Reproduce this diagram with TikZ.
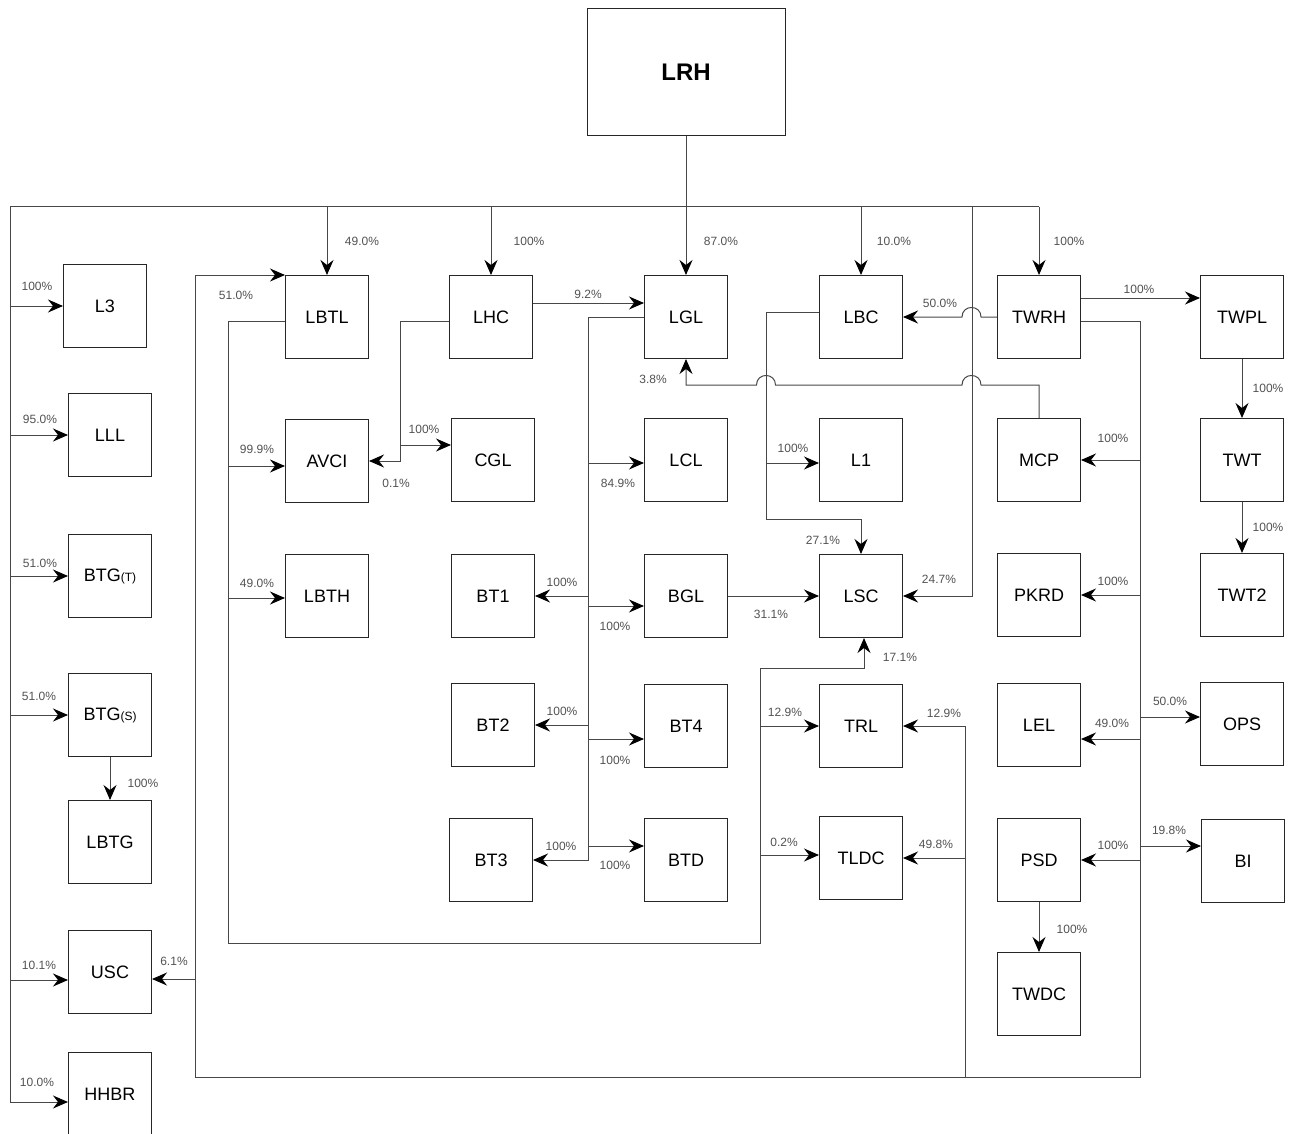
\documentclass[tikz,border=0pt]{standalone}
\usepackage{fontspec}
\setmainfont{Liberation Sans}
\usetikzlibrary{arrows.meta}
\begin{document}
\begin{tikzpicture}[x=1pt,y=-1pt,
 box/.style={draw=black!85,line width=1pt,minimum width=83pt,minimum height=83pt,inner sep=0pt,font=\fontsize{18}{20}\selectfont},
 ln/.style={draw=black!72,line width=1pt},
 arr/.style={ln,-{Stealth[length=15pt,width=13pt,inset=5pt,color=black]}},
 pct/.style={font=\fontsize{12}{14}\selectfont,text=black!68,inner sep=0pt}]
\useasboundingbox (0,0) rectangle (1293,1134);

% ---------- nodes ----------
\node[box,minimum width=198pt,minimum height=127pt,font=\fontsize{24}{26}\selectfont\bfseries] (LRH) at (686,72) {LRH};

\node[box] (L3)   at (105,306)  {L3};
\node[box] (LLL)  at (110,435)  {LLL};
\node[box] (BTGT) at (110,576)  {BTG{\fontsize{12}{14}\selectfont(T)}};
\node[box] (BTGS) at (110,715)  {BTG{\fontsize{12}{14}\selectfont(S)}};
\node[box] (LBTG) at (110,842)  {LBTG};
\node[box] (USC)  at (110,972)  {USC};
\node[box] (HHBR) at (110,1094) {HHBR};

\node[box] (LBTL) at (327,317) {LBTL};
\node[box] (AVCI) at (327,461) {AVCI};
\node[box] (LBTH) at (327,596) {LBTH};

\node[box] (LHC) at (491,317) {LHC};
\node[box] (CGL) at (493,460) {CGL};
\node[box] (BT1) at (493,596) {BT1};
\node[box] (BT2) at (493,725) {BT2};
\node[box] (BT3) at (491,860) {BT3};

\node[box] (LGL) at (686,317) {LGL};
\node[box] (LCL) at (686,460) {LCL};
\node[box] (BGL) at (686,596) {BGL};
\node[box] (BT4) at (686,726) {BT4};
\node[box] (BTD) at (686,860) {BTD};

\node[box] (LBC)  at (861,317) {LBC};
\node[box] (L1)   at (861,460) {L1};
\node[box] (LSC)  at (861,596) {LSC};
\node[box] (TRL)  at (861,726) {TRL};
\node[box] (TLDC) at (861,858) {TLDC};

\node[box] (TWRH) at (1039,317) {TWRH};
\node[box] (MCP)  at (1039,460) {MCP};
\node[box] (PKRD) at (1039,595) {PKRD};
\node[box] (LEL)  at (1039,725) {LEL};
\node[box] (PSD)  at (1039,860) {PSD};
\node[box] (TWDC) at (1039,994) {TWDC};

\node[box] (TWPL) at (1242,317) {TWPL};
\node[box] (TWT)  at (1242,460) {TWT};
\node[box] (TWT2) at (1242,595) {TWT2};
\node[box] (OPS)  at (1242,724) {OPS};
\node[box] (BI)   at (1243,861) {BI};

% ---------- top bus ----------
\coordinate (busL) at (10,207);
\coordinate (busR) at (1039,207);
\draw[ln] (busR) -- (busL);
\draw[arr] (LRH.south) -- (LGL.north);
\draw[arr] (LBTL.north |- busL) -- (LBTL.north);
\draw[arr] (LHC.north |- busL) -- (LHC.north);
\draw[arr] (LBC.north |- busL) -- (LBC.north);
\draw[arr] (busR) -- (TWRH.north);
\draw[arr] (972,207) -- (972,596) -- (LSC.east);

% left bus
\draw[arr] (busL) -- (10,1102) -- ([yshift=-8pt]HHBR.west);
\draw[arr] (10,306) -- (L3.west);
\draw[arr] (10,435) -- (LLL.west);
\draw[arr] (10,576) -- (BTGT.west);
\draw[arr] (10,715) -- (BTGS.west);
\draw[arr] (10,980) -- ([yshift=-8pt]USC.west);
\draw[arr] (BTGS.south) -- (LBTG.north);

% ---------- TWRH outer loop ----------
\draw[arr] ([yshift=-4pt]TWRH.east) -- (1140,321) -- (1140,1077) -- (195,1077) -- (195,0 |- LBTL.north west) -- (LBTL.north west);
\draw[arr] (195,979) -- ([yshift=-7pt]USC.east);
\draw[arr] (1140,460) -- (MCP.east);
\draw[arr] (1140,595) -- (PKRD.east);
\draw[arr] (1140,739) -- ([yshift=-14pt]LEL.east);
\draw[arr] (1140,860) -- (PSD.east);
\draw[arr] (1140,717) -- ([yshift=7pt]OPS.west);
\draw[arr] (1140,846) -- ([yshift=15pt]BI.west);
\draw[arr] (965,1077) -- (965,726) -- (TRL.east);
\draw[arr] (965,858) -- (TLDC.east);

% ---------- LBTL ----------
\draw[arr] ([yshift=-4pt]LBTL.west) -- (228,321) -- (228,943) -- (760,943) -- (760,668) -- (864,668) -- ([xshift=3pt]LSC.south);
\draw[arr] (228,466) -- ([yshift=-5pt]AVCI.west);
\draw[arr] (228,598) -- ([yshift=-2pt]LBTH.west);
\draw[arr] (760,726) -- (TRL.west);
\draw[arr] (760,855) -- ([yshift=3pt]TLDC.west);

% ---------- LHC ----------
\draw[arr] ([yshift=14pt]LHC.east) -- ([yshift=14pt]LGL.west);
\draw[arr] ([yshift=-4pt]LHC.west) -- (400,321) -- (400,461) -- (AVCI.east);
\draw[arr] (400,445) -- ([yshift=15pt]CGL.west);

% ---------- LGL ----------
\draw[arr] (LGL.west) -- (588,317) -- (588,860) -- (BT3.east);
\draw[arr] (588,463) -- ([yshift=-3pt]LCL.west);
\draw[arr] (588,596) -- (BT1.east);
\draw[arr] (588,606) -- ([yshift=-10pt]BGL.west);
\draw[arr] (588,725) -- (BT2.east);
\draw[arr] (588,739) -- ([yshift=-13pt]BT4.west);
\draw[arr] (588,846) -- ([yshift=14pt]BTD.west);

% ---------- LBC ----------
\draw[arr] ([yshift=5pt]LBC.west) -- (766,312) -- (766,519) -- (861,519) -- (LSC.north);
\draw[arr] (766,463) -- ([yshift=-3pt]L1.west);
\draw[arr] (BGL.east) -- (LSC.west);

% ---------- TWRH ----------
\draw[arr] (TWRH.west) -- (981,317) .. controls (981,304.3) and (962,304.3) .. (962,317) -- (LBC.east);
\draw[arr] ([yshift=19pt]TWRH.east) -- ([yshift=19pt]TWPL.west);
\draw[arr] (TWPL.south) -- (TWT.north);
\draw[arr] (TWT.south) -- (TWT2.north);
\draw[arr] (PSD.south) -- (TWDC.north);

% ---------- MCP ----------
\draw[arr] (MCP.north) -- (1039,385) -- (981,385) .. controls (981,372.3) and (962,372.3) .. (962,385) -- (775.5,385) .. controls (775.5,372.3) and (756.5,372.3) .. (756.5,385) -- (686,385) -- (LGL.south);

% ---------- labels ----------
\node[pct] (p1) at (362,241) {49.0\%};
\node[pct] (p2) at (529,241) {100\%};
\node[pct] (p3) at (721,241) {87.0\%};
\node[pct] (p4) at (894,241) {10.0\%};
\node[pct] (p5) at (1069,241) {100\%};
\node[pct] (p6) at (37,286) {100\%};
\node[pct] (p7) at (40,419) {95.0\%};
\node[pct] (p8) at (40,563) {51.0\%};
\node[pct] (p9) at (39,696) {51.0\%};
\node[pct] (p10) at (143,783) {100\%};
\node[pct] (p11) at (39,965) {10.1\%};
\node[pct] (p12) at (37,1082) {10.0\%};
\node[pct] (p13) at (174,961) {6.1\%};
\node[pct] (p14) at (236,295) {51.0\%};
\node[pct] (p15) at (257,449) {99.9\%};
\node[pct] (p16) at (257,583) {49.0\%};
\node[pct] (p17) at (396,483) {0.1\%};
\node[pct] (p18) at (424,429) {100\%};
\node[pct] (p19) at (588,294) {9.2\%};
\node[pct] (p20) at (653,379) {3.8\%};
\node[pct] (p21) at (618,483) {84.9\%};
\node[pct] (p22) at (562,582) {100\%};
\node[pct] (p23) at (615,626) {100\%};
\node[pct] (p24) at (562,711) {100\%};
\node[pct] (p25) at (615,760) {100\%};
\node[pct] (p26) at (561,846) {100\%};
\node[pct] (p27) at (615,865) {100\%};
\node[pct] (p28) at (771,614) {31.1\%};
\node[pct] (p29) at (823,540) {27.1\%};
\node[pct] (p30) at (939,579) {24.7\%};
\node[pct] (p31) at (900,657) {17.1\%};
\node[pct] (p32) at (785,712) {12.9\%};
\node[pct] (p33) at (784,842) {0.2\%};
\node[pct] (p34) at (944,713) {12.9\%};
\node[pct] (p35) at (936,844) {49.8\%};
\node[pct] (p36) at (793,448) {100\%};
\node[pct] (p37) at (940,303) {50.0\%};
\node[pct] (p38) at (1139,289) {100\%};
\node[pct] (p39) at (1268,388) {100\%};
\node[pct] (p40) at (1268,527) {100\%};
\node[pct] (p41) at (1113,438) {100\%};
\node[pct] (p42) at (1113,581) {100\%};
\node[pct] (p43) at (1112,723) {49.0\%};
\node[pct] (p44) at (1170,701) {50.0\%};
\node[pct] (p45) at (1113,845) {100\%};
\node[pct] (p46) at (1169,830) {19.8\%};
\node[pct] (p47) at (1072,929) {100\%};
\end{tikzpicture}
\end{document}
